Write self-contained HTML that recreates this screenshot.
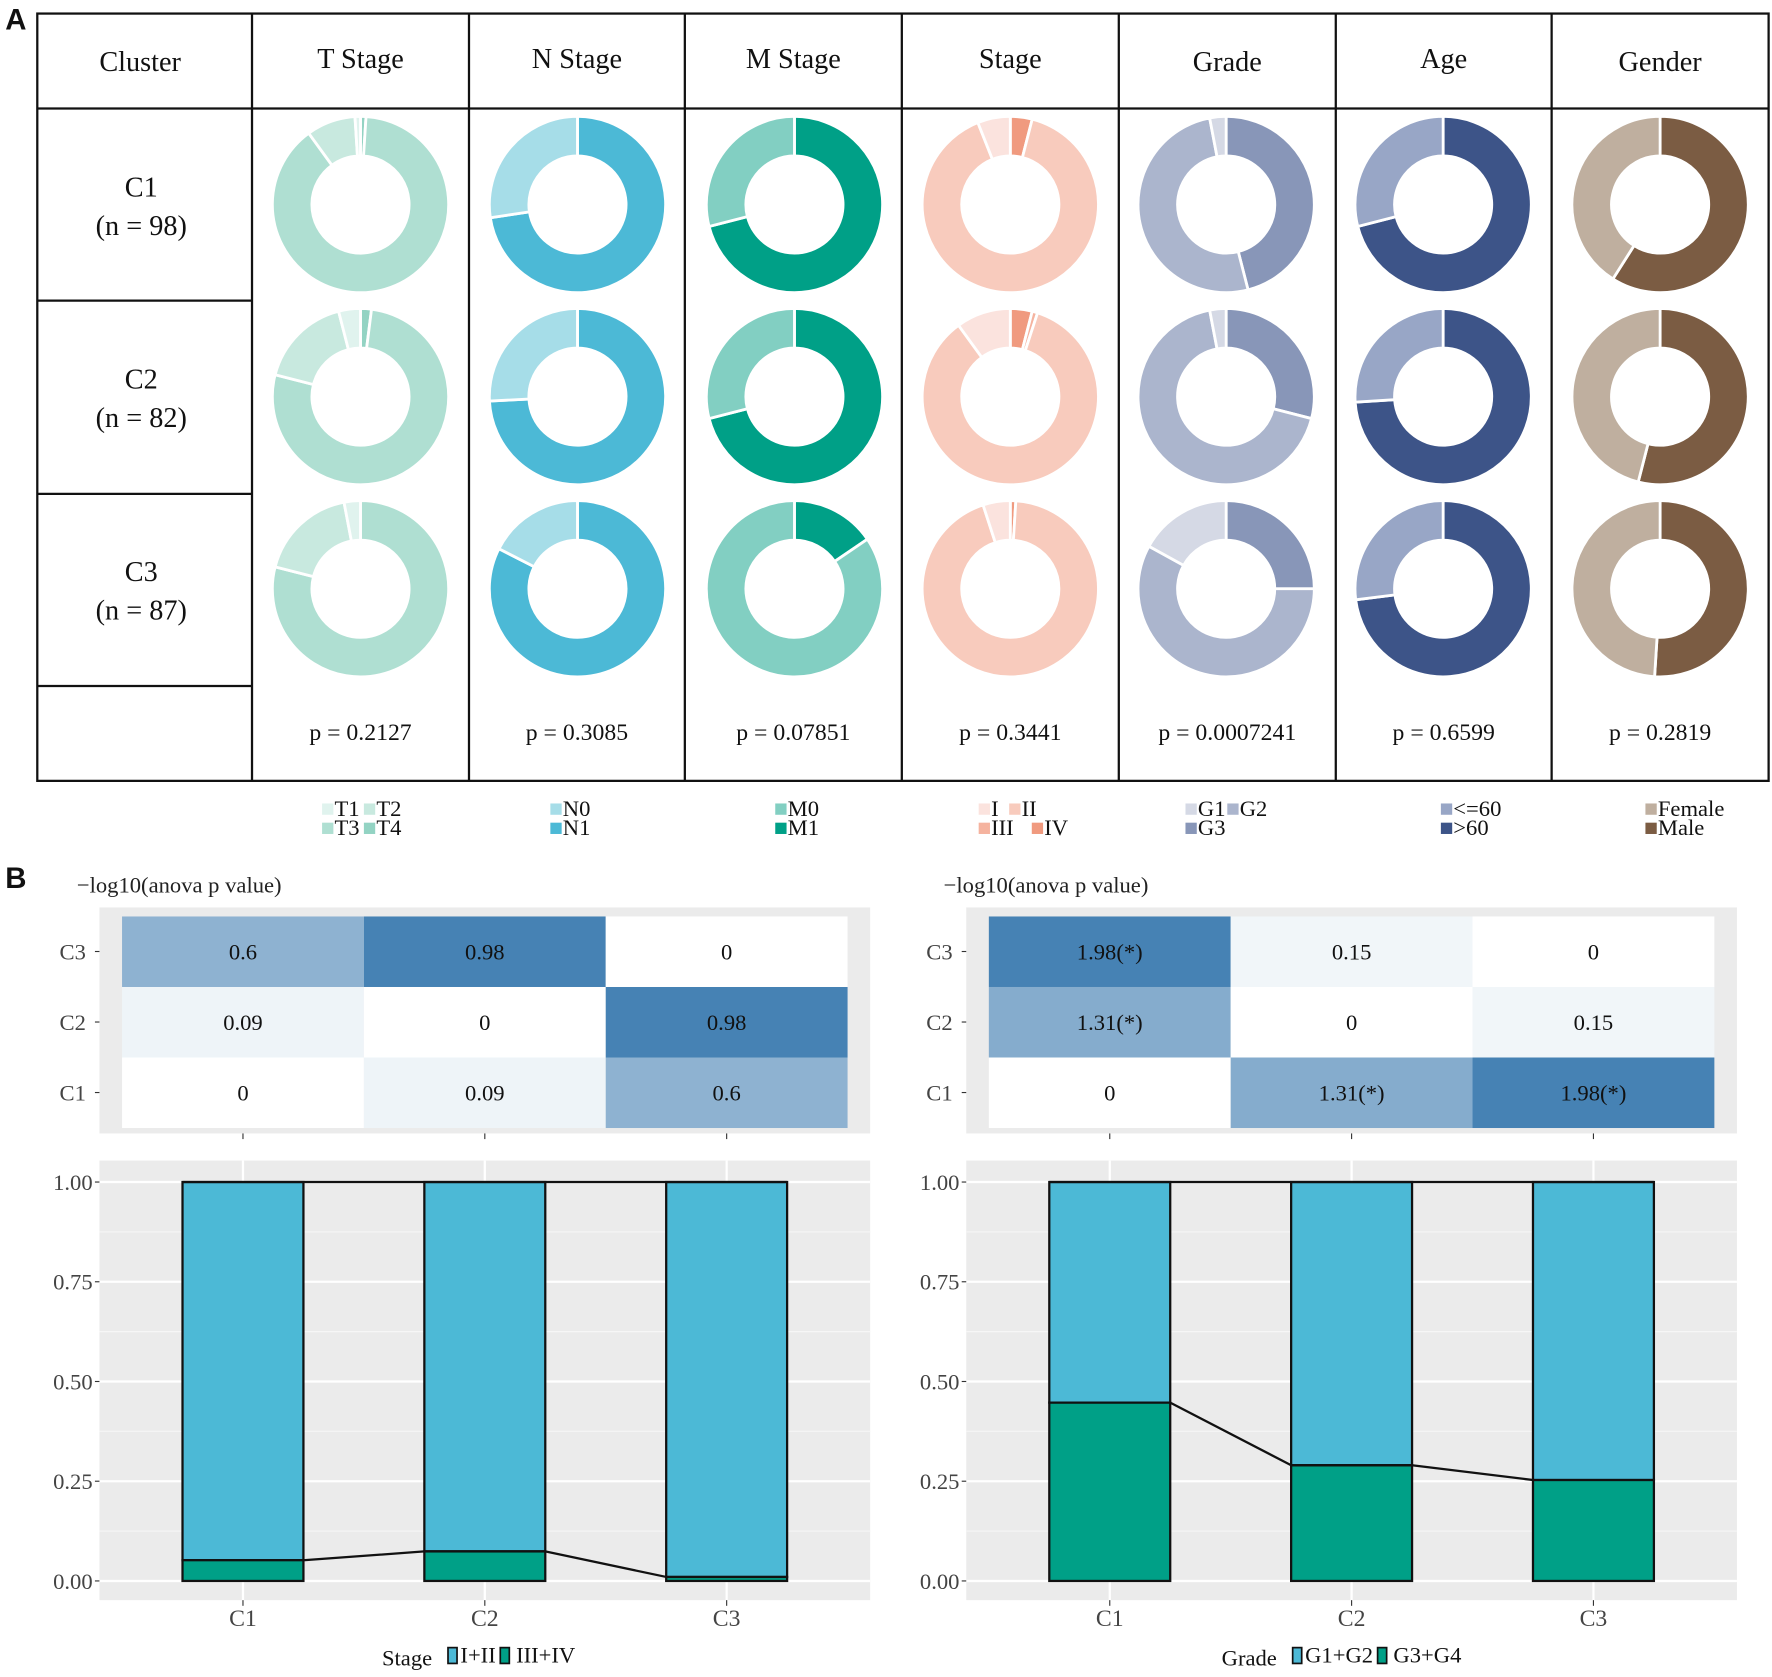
<!DOCTYPE html>
<html><head><meta charset="utf-8"><style>
html,body{margin:0;padding:0;background:#fff}
svg{display:block;font-family:"Liberation Serif",serif}
</style></head><body>
<svg id="fig" width="1772" height="1677" viewBox="0 0 1568 1484" preserveAspectRatio="none" xmlns="http://www.w3.org/2000/svg"></svg>
<script>
// ---------- Data ----------
const clusters = ["C1","C2","C3"];
const clusterN = [98,82,87];
const variables = ["T Stage","N Stage","M Stage","Stage","Grade","Age","Gender"];
const pValues = ["p = 0.2127","p = 0.3085","p = 0.07851","p = 0.3441","p = 0.0007241","p = 0.6599","p = 0.2819"];
const tStageFrac = [[0.01,0.89,0.09,0.01],[0.02,0.77,0.17,0.04],[0,0.79,0.18,0.03]];
const tStageCols = ["#93d3c3","#afdfd2","#c8e9df","#e0f3ee"];
const nStageFrac = [[0.726,0.274],[0.742,0.258],[0.825,0.175]];
const nStageCols = ["#4cb9d6","#a6dde8"];
const mStageFrac = [[0.71,0.29],[0.71,0.29],[0.155,0.845]];
const mStageCols = ["#00a087","#82cfc2"];
const stageFrac = [[0.04,0,0.90,0.06],[0.04,0.01,0.85,0.10],[0.01,0,0.94,0.05]];
const stageCols = ["#f09a7f","#f5b39f","#f8cbbd","#fbe3de"];
const gradeFrac = [[0.46,0.51,0.03],[0.29,0.68,0.03],[0.25,0.58,0.17]];
const gradeCols = ["#8896b8","#abb5cd","#d5d9e5"];
const ageFrac = [[0.71,0.29],[0.74,0.26],[0.73,0.27]];
const ageCols = ["#3d5488","#98a6c6"];
const genderFrac = [[0.59,0.41],[0.54,0.46],[0.51,0.49]];
const genderCols = ["#7b5c43","#bfaf9f"];

const heatLeft = [[0,0.09,0.6],[0.09,0,0.98],[0.6,0.98,0]];
const heatLeftLbl = [["0","0.09","0.6"],["0.09","0","0.98"],["0.6","0.98","0"]];
const heatRight = [[0,1.31,1.98],[1.31,0,0.15],[1.98,0.15,0]];
const heatRightLbl = [["0","1.31(*)","1.98(*)"],["1.31(*)","0","0.15"],["1.98(*)","0.15","0"]];
const stageLow = [0.052,0.074,0.01];
const gradeLow = [0.447,0.29,0.253];
const yTicks = [0,0.25,0.5,0.75,1];
const yTickLbl = ["0.00","0.25","0.50","0.75","1.00"];

// ---------- helpers ----------
const svg = document.getElementById('fig');
const NS = "http://www.w3.org/2000/svg";
function mk(tag, attrs, parent){ const e=document.createElementNS(NS,tag); for(const k in attrs) e.setAttribute(k,attrs[k]); (parent||svg).appendChild(e); return e; }
function txt(x,y,s,size,anchor,parent,fill){ const t=mk('text',{x:x,y:y,'font-size':size,'text-anchor':anchor||'middle',fill:fill||'#111'},parent); t.textContent=s; return t; }

// ---------- Panel A ----------
const gA = mk('g',{});  
const al=txt(14,26,"A",26,'middle',gA); al.setAttribute('font-family','Liberation Sans'); al.setAttribute('font-weight','bold');
mk('rect',{x:33,y:12,width:1532,height:679,fill:'none',stroke:'#111','stroke-width':2},gA);
const colX=[33,223,415,606,798,990,1182,1373,1565];
for(let i=1;i<colX.length-1;i++) mk('line',{x1:colX[i],y1:12,x2:colX[i],y2:691,stroke:'#111','stroke-width':2},gA);
mk('line',{x1:33,y1:96,x2:1565,y2:96,stroke:'#111','stroke-width':2},gA);
[266,437,607].forEach(y=>mk('line',{x1:33,y1:y,x2:223,y2:y,stroke:'#111','stroke-width':2},gA));
const hdr=txt(124,63,"Cluster",25,'middle',gA);  
variables.forEach((v,i)=>{ const t=txt((colX[i+1]+colX[i+2])/2, i===4||i===6?63:60, v,25,'middle',gA);
    });
clusters.forEach((c,r)=>{ const cy=181+170*r;
  const t1=txt(125,cy-7,c,25,'middle',gA);  
  txt(125,cy+27,"(n = "+clusterN[r]+")",25,'middle',gA);
});
pValues.forEach((p,i)=>{ const t=txt((colX[i+1]+colX[i+2])/2,655,p,21,'middle',gA);   });

const fracSets=[tStageFrac,nStageFrac,mStageFrac,stageFrac,gradeFrac,ageFrac,genderFrac];
const colSets=[tStageCols,nStageCols,mStageCols,stageCols,gradeCols,ageCols,genderCols];
const donutX=[319,511,703,894,1085,1277,1469];
function arcPath(cx,cy,R,r,a0,a1){
  const p=(rad,a)=>[cx+rad*Math.sin(a),cy-rad*Math.cos(a)];
  const large=(a1-a0)>Math.PI?1:0;
  const [x0,y0]=p(R,a0),[x1,y1]=p(R,a1),[x2,y2]=p(r,a1),[x3,y3]=p(r,a0);
  return `M${x0},${y0}A${R},${R} 0 ${large} 1 ${x1},${y1}L${x2},${y2}A${r},${r} 0 ${large} 0 ${x3},${y3}Z`;
}
fracSets.forEach((set,vi)=>{
  set.forEach((fr,ri)=>{
    const cx=donutX[vi], cy=181+170*ri; let acc=0;
    fr.forEach((f,k)=>{ if(f<=0) return;
      const a0=acc*2*Math.PI, a1=Math.min(acc+f,0.99999)*2*Math.PI; acc+=f;
      const el=mk('path',{d:arcPath(cx,cy,78,43,a0,a1),fill:colSets[vi][k],stroke:'#fff','stroke-width':2.5},gA);
      
      
    });
  });
});
const legends=[
 [[["T1",0],["T2",1]],[["T3",2],["T4",3]],["#e0f3ee","#c8e9df","#afdfd2","#93d3c3"],285],
 [[["N0",0]],[["N1",1]],["#a6dde8","#4cb9d6"],487],
 [[["M0",0]],[["M1",1]],["#82cfc2","#00a087"],686],
 [[["I",0],["II",1]],[["III",2],["IV",3]],["#fbe3de","#f8cbbd","#f5b39f","#f09a7f"],866],
 [[["G1",0],["G2",1]],[["G3",2]],["#d5d9e5","#abb5cd","#8896b8"],1049],
 [[["<=60",0]],[[">60",1]],["#98a6c6","#3d5488"],1275],
 [[["Female",0]],[["Male",1]],["#bfaf9f","#7b5c43"],1456]];
legends.forEach(L=>{
  const g=mk('g',{},gA);  
  [L[0],L[1]].forEach((row,ri)=>{ let x=L[3]; const y=717+17*ri;
    row.forEach(([lab,ci])=>{ mk('rect',{x:x,y:y-6,width:10,height:10,fill:L[2][ci]},g);
      txt(x+11,y+5,lab,20,'start',g); x+=11+lab.length*10+6; });
  });
});

// ---------- Panel B ----------
const gB = mk('g',{});  
const bl=txt(14,786,"B",26,'middle',gB); bl.setAttribute('font-family','Liberation Sans'); bl.setAttribute('font-weight','bold');
function heat(x0,data,labels,name){
  const g=mk('g',{},gB);  
  txt(x0-20,790,"\u2212log10(anova p  value)",20,'start',g,'#222');
  mk('rect',{x:x0,y:803,width:682,height:200,fill:'#ebebeb'},g);
  const max=Math.max(...data.flat());
  const tileX=i=>x0+20+214*i, tileY=r=>811+62.4*(2-r);
  for(let r=0;r<3;r++){ for(let c=0;c<3;c++){
    const t=data[r][c]/max;
    const col=`rgb(${Math.round(255+(70-255)*t)},${Math.round(255+(130-255)*t)},${Math.round(255+(180-255)*t)})`;
    const el=mk('rect',{x:tileX(c),y:tileY(r),width:214,height:62.4,fill:col},g);
    
    
    txt(tileX(c)+107,tileY(r)+38,labels[r][c],20,'middle',g);
  }
    txt(x0-12,tileY(r)+38,clusters[r],20,'end',g,'#444');
    mk('line',{x1:x0-4,y1:tileY(r)+31,x2:x0,y2:tileY(r)+31,stroke:'#333'},g);
  }
  for(let c=0;c<3;c++) mk('line',{x1:tileX(c)+107,y1:1003,x2:tileX(c)+107,y2:1008,stroke:'#333'},g);
}
heat(88,heatLeft,heatLeftLbl,'heatmap-stage');
heat(855,heatRight,heatRightLbl,'heatmap-grade');

function bars(x0,low,legTitle,legA,legB,name,legX){
  const g=mk('g',{},gB);  
  mk('rect',{x:x0,y:1027,width:682,height:389,fill:'#ebebeb'},g);
  const yS=v=>1399-353*v, xS=i=>x0+127+214*i;
  [0.125,0.375,0.625,0.875].forEach(v=>mk('line',{x1:x0,x2:x0+682,y1:yS(v),y2:yS(v),stroke:'#f6f6f6','stroke-width':1},g));
  yTicks.forEach((v,i)=>{ mk('line',{x1:x0,x2:x0+682,y1:yS(v),y2:yS(v),stroke:'#fff','stroke-width':2},g);
    mk('line',{x1:x0-4,x2:x0,y1:yS(v),y2:yS(v),stroke:'#333'},g);
    txt(x0-6,yS(v)+7,yTickLbl[i],20,'end',g,'#444'); });
  clusters.forEach((c,i)=>{ mk('line',{x1:xS(i),x2:xS(i),y1:1027,y2:1416,stroke:'#fff','stroke-width':2},g);
    mk('line',{x1:xS(i),x2:xS(i),y1:1416,y2:1421,stroke:'#333'},g);
    txt(xS(i),1439,c,21,'middle',g,'#444'); });
  const pts=[];
  low.forEach((v,i)=>{ const bx=xS(i)-53.5;
    const a=mk('rect',{x:bx,y:yS(1),width:107,height:yS(v)-yS(1),fill:'#4cb9d6',stroke:'#111','stroke-width':2},g);
     
    const b=mk('rect',{x:bx,y:yS(v),width:107,height:yS(0)-yS(v),fill:'#00a087',stroke:'#111','stroke-width':2},g);
     
    pts.push([bx,yS(v)],[bx+107,yS(v)]);
  });
  const ln=mk('polyline',{points:pts.slice(1,5).map(p=>p.join(',')).join(' '),fill:'none',stroke:'#111','stroke-width':2},g);
   
  mk('line',{x1:xS(0)-53.5,x2:xS(2)+53.5,y1:yS(1),y2:yS(1),stroke:'#111','stroke-width':2},g);
  const tt=txt(legX,1474,legTitle,20,'start',g);
  const lx=legX+tt.getComputedTextLength()+14;
  mk('rect',{x:lx,y:1458,width:8,height:14,fill:'#4cb9d6',stroke:'#111','stroke-width':1.5},g);
  const ta=txt(lx+11,1471,legA,20,'start',g);
  const lx2=lx+11+ta.getComputedTextLength()+4;
  mk('rect',{x:lx2,y:1458,width:8,height:14,fill:'#00a087',stroke:'#111','stroke-width':1.5},g);
  txt(lx2+14,1471,legB,20,'start',g);
}
bars(88,stageLow,"Stage","I+II","III+IV",'bar-chart-stage',338);
bars(855,gradeLow,"Grade","G1+G2","G3+G4",'bar-chart-grade',1081);
</script>
</body></html>
